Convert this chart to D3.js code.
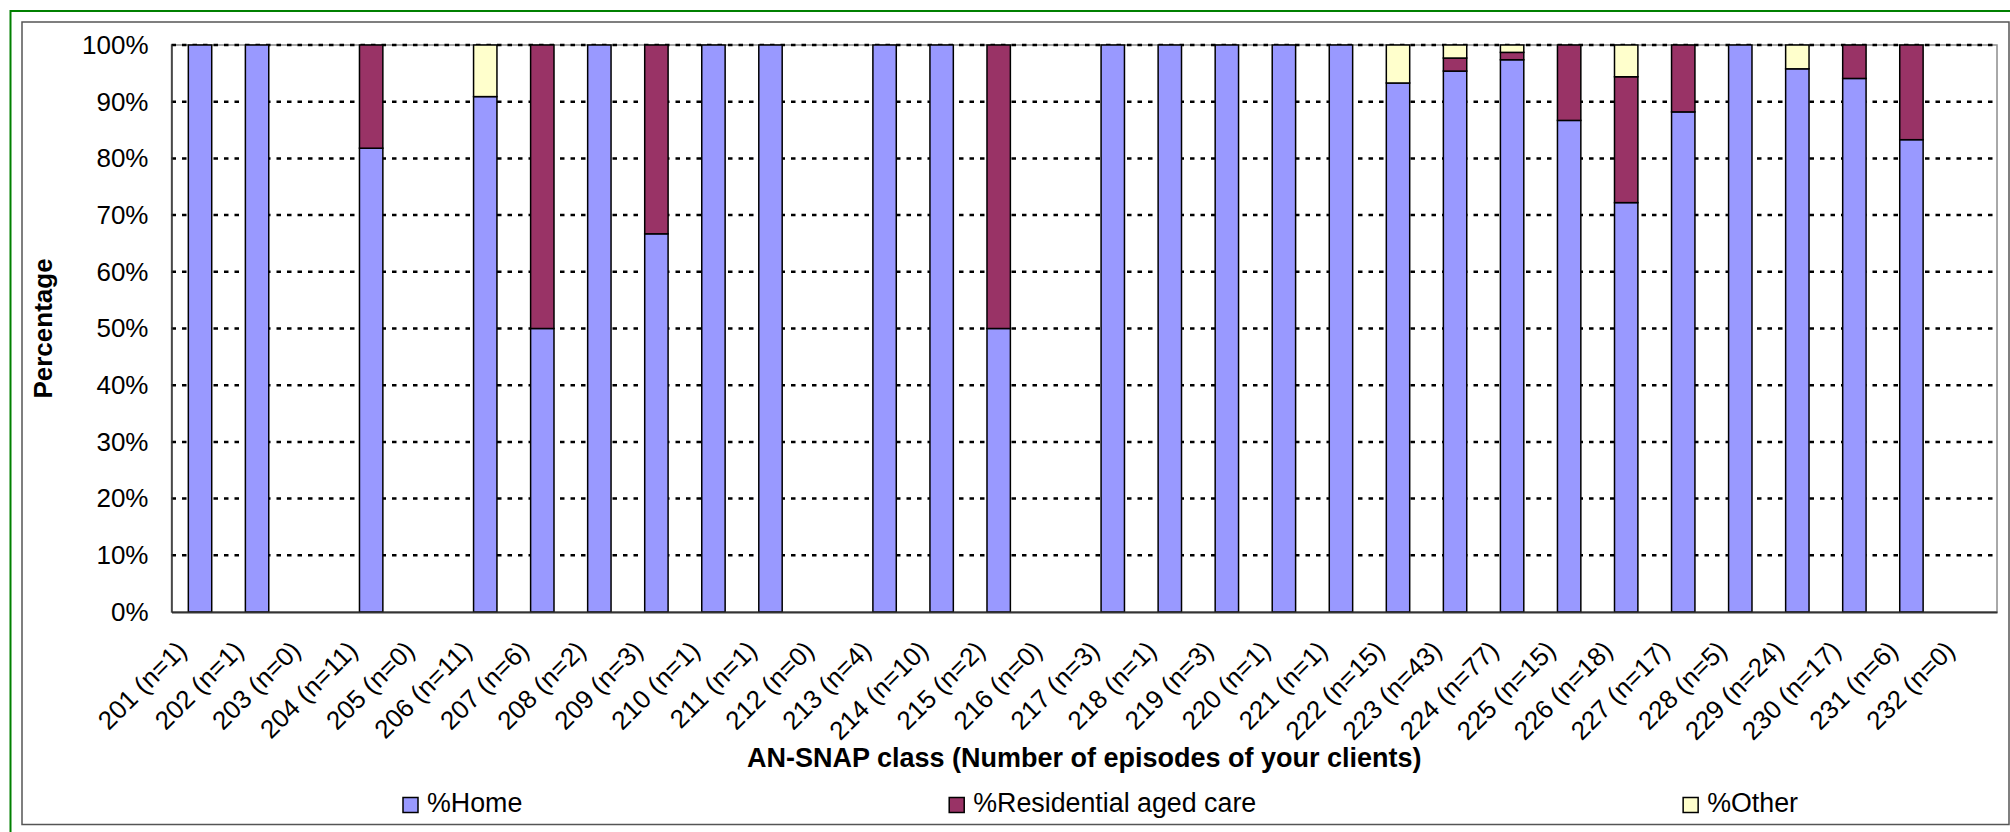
<!DOCTYPE html>
<html>
<head>
<meta charset="utf-8">
<script src="https://cdn.jsdelivr.net/npm/d3@7/dist/d3.min.js"></script>
<style>
  body { margin: 0; background: #fff; }
  text { font-family: "Liberation Sans", Arial, sans-serif; fill: #000; }
</style>
</head>
<body>
<div id="chart"></div>
<script>

// AN-SNAP classes and number of episodes (n)
var classes = ["201","202","203","204","205","206","207","208","209","210","211","212","213","214","215","216",
               "217","218","219","220","221","222","223","224","225","226","227","228","229","230","231","232"]
var episodes = [1,1,0,11,0,11,6,2,3,1,1,0,4,10,2,0,3,1,3,1,1,15,43,77,15,18,17,5,24,17,6,0]

// percentages
var pct_home  = [100,100,0,81.8,0,90.9,50,100,66.7,100,100,0,100,100,50,0,100,100,100,100,100,93.3,95.4,97.4,86.7,72.2,88.2,100,95.8,94.1,83.3,0]
var pct_res   = [0,0,0,18.2,0,0,50,0,33.3,0,0,0,0,0,50,0,0,0,0,0,0,0,2.3,1.3,13.3,22.2,11.8,0,0,5.9,16.7,0]
var pct_other = [0,0,0,0,0,9.1,0,0,0,0,0,0,0,0,0,0,0,0,0,0,0,6.7,2.3,1.3,0,5.6,0,0,4.2,0,0,0]

var series_names = ["%Home", "%Residential aged care", "%Other"]
var series_colors = ["#9999ff", "#993366", "#ffffcc"]
var y_ticks = [0,10,20,30,40,50,60,70,80,90,100]

var w = 2010
var h = 832
var plot_left = 171.5
var plot_right = 1997
var plot_top = 45
var plot_bottom = 612

var labels = classes.map(function(c, i){ return c + " (n=" + episodes[i] + ")" })

var rows = labels.map(function(l, i){
  return {label: l, home: pct_home[i], res: pct_res[i], other: pct_other[i]}
})
var keys = ["home", "res", "other"]
var stacked = d3.stack().keys(keys)(rows)

var x = d3.scaleBand().domain(labels).range([plot_left, plot_right]).paddingInner(0.59).paddingOuter(0.295)
var y = d3.scaleLinear().domain([0, 100]).range([plot_bottom, plot_top])

var svg = d3.select("#chart").append("svg")
  .attr("width", w)
  .attr("height", h)

svg.append("rect").attr("width", w).attr("height", h).attr("fill", "#fff")

// outer frames (they run off the right and bottom of the picture)
svg.append("rect")
  .attr("x", 10.5).attr("y", 11)
  .attr("width", w + 20).attr("height", h + 20)
  .attr("fill", "none").attr("stroke", "#008000").attr("stroke-width", 2)

svg.append("rect")
  .attr("x", 22).attr("y", 22)
  .attr("width", 1987).attr("height", 802.5)
  .attr("fill", "none").attr("stroke", "#555").attr("stroke-width", 1.5)

// plot area
svg.append("rect")
  .attr("x", plot_left).attr("y", plot_top)
  .attr("width", plot_right - plot_left).attr("height", plot_bottom - plot_top)
  .attr("fill", "#fff").attr("stroke", "#8c8c8c").attr("stroke-width", 1.5)

svg.append("g")
  .selectAll("line")
  .data(y_ticks.filter(function(t){ return t > 0 }))
  .enter().append("line")
  .attr("x1", plot_left).attr("x2", plot_right)
  .attr("y1", function(d){ return y(d) })
  .attr("y2", function(d){ return y(d) })
  .attr("stroke", "#000")
  .attr("stroke-width", 2.5)
  .attr("stroke-dasharray", "4.5 6")

// stacked bars
svg.append("g")
  .selectAll("g")
  .data(stacked)
  .enter().append("g")
  .attr("fill", function(d, i){ return series_colors[i] })
  .selectAll("rect")
  .data(function(d){ return d.filter(function(s){ return s[1] - s[0] > 0 }) })
  .enter().append("rect")
  .attr("x", function(d){ return x(d.data.label) })
  .attr("y", function(d){ return y(d[1]) })
  .attr("width", x.bandwidth())
  .attr("height", function(d){ return y(d[0]) - y(d[1]) })
  .attr("stroke", "#000")
  .attr("stroke-width", 1.5)

// axes
var y_axis = svg.append("g")
  .attr("transform", "translate(" + plot_left + ",0)")
  .call(d3.axisLeft(y).tickValues(y_ticks).tickFormat(function(d){ return d + "%" }).tickSize(0).tickPadding(23))
y_axis.select(".domain").attr("stroke", "#333").attr("stroke-width", 1.5)
y_axis.selectAll("text").style("font-size", "26px").attr("fill", "#000")

var x_axis = svg.append("g")
  .attr("transform", "translate(0," + plot_bottom + ")")
  .call(d3.axisBottom(x).tickSize(0))
x_axis.select(".domain").attr("stroke", "#333").attr("stroke-width", 2)
x_axis.selectAll("text")
  .style("font-size", "26px")
  .attr("fill", "#000")
  .attr("text-anchor", "end")
  .attr("x", 0).attr("y", 0).attr("dy", 0)
  .attr("transform", "translate(-12,40) rotate(-45)")

// titles
svg.append("text")
  .attr("transform", "translate(52," + (plot_top + plot_bottom) / 2 + ") rotate(-90)")
  .attr("text-anchor", "middle")
  .style("font-size", "26px")
  .style("font-weight", "bold")
  .text("Percentage")

svg.append("text")
  .attr("x", (plot_left + plot_right) / 2)
  .attr("y", 767)
  .attr("text-anchor", "middle")
  .style("font-size", "27px")
  .style("font-weight", "bold")
  .text("AN-SNAP class (Number of episodes of your clients)")

// legend: equal gaps between entries, first entry at 403, last ends at 1798
var leg_left = 403
var leg_right = 1798
var legend = svg.append("g")
var items = legend.selectAll("g")
  .data(series_names)
  .enter().append("g")

items.append("rect")
  .attr("y", 797.5)
  .attr("width", 15).attr("height", 15)
  .attr("fill", function(d, i){ return series_colors[i] })
  .attr("stroke", "#000").attr("stroke-width", 1.5)

items.append("text")
  .attr("x", 24)
  .attr("y", 812)
  .style("font-size", "26.8px")
  .text(function(d){ return d })

var widths = []
items.selectAll("text").each(function(){ widths.push(24 + this.getComputedTextLength()) })
var gap = (leg_right - leg_left - d3.sum(widths)) / (widths.length - 1)
var pos = leg_left
items.each(function(d, i){
  d3.select(this).attr("transform", "translate(" + pos + ",0)")
  pos += widths[i] + gap
})

</script>
</body>
</html>
